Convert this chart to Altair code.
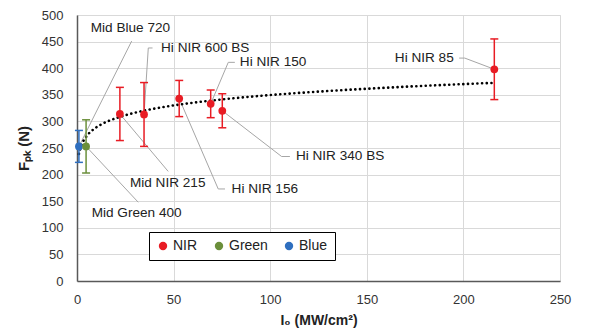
import altair as alt
import pandas as pd

# --- data ---
names = ["Mid Blue 720", "Mid Green 400", "Mid NIR 215", "Hi NIR 600 BS",
         "Hi NIR 156", "Hi NIR 150", "Hi NIR 340 BS", "Hi NIR 85"]
groups = ["Blue", "Green", "NIR", "NIR", "NIR", "NIR", "NIR", "NIR"]
intensity = [1.0, 4.7, 22.2, 34.7, 52.9, 69.2, 75.2, 216.0]
force = [253, 253, 314, 313, 343, 333, 320, 398]
err = [30, 50, 50, 60, 34, 26, 32, 57]

# annotation label anchors (data units) and leader elbows
label_x = [7.1, 7.6, 27.4, 43.5, 80.0, 84.3, 113.3, 195.0]
label_y = [476, 127, 185, 438, 173, 411, 235, 419]
label_align = ["left", "left", "left", "left", "left", "left", "left", "right"]
leader_start_x = [28.3, 31.7, 47.2, 39.1, 76.6, 81.7, 110.2, 197.8]
leader_start_y = [451, 148, 206, 438, 173, 411, 234, 419]
leader_elbow_x = [None, None, None, 36.9, 73.1, 78.3, 105.9, 200.7]

series_order = ["NIR", "Green", "Blue"]
series_colors = ["#e81c24", "#6b8f3b", "#2f6fbf"]

df = pd.DataFrame({"name": names, "group": groups, "I": intensity, "F": force, "e": err})
df["lo"] = df["F"] - df["e"]
df["hi"] = df["F"] + df["e"]

lab = pd.DataFrame({"name": names, "I": label_x, "F": label_y, "align": label_align})

rows = []
for i, n in enumerate(names):
    pts = [(leader_start_x[i], leader_start_y[i])]
    if leader_elbow_x[i] is not None:
        pts.append((leader_elbow_x[i], leader_start_y[i]))
    pts.append((intensity[i], force[i]))
    for k, (px, py) in enumerate(pts):
        rows.append({"lid": n, "ord": k, "I": px, "F": py})
lead = pd.DataFrame(rows)

FONT = "Liberation Sans"
XT = "I₀ (MW/cm²)"
YT = "Fₚₖ (N)"

xscale = alt.Scale(domain=[0, 250], nice=False)
yscale = alt.Scale(domain=[0, 500], nice=False)
xaxis = alt.Axis(values=[0, 50, 100, 150, 200, 250], grid=True, ticks=False,
                 gridColor="#d9d9d9", domainColor="#595959", domainWidth=1.5,
                 labelPadding=12, labelFontSize=13, labelColor="#333333",
                 labelFont=FONT, labelOverlap=False, labelFlush=False,
                 title=XT, titleFont=FONT,
                 titleFontSize=14, titleFontWeight="bold", titlePadding=7,
                 titleColor="#222222")
yaxis = alt.Axis(values=list(range(0, 501, 50)), grid=True, ticks=False,
                 gridColor="#d9d9d9", domainColor="#595959", domainWidth=1.5,
                 labelPadding=14, labelFontSize=13, labelColor="#333333",
                 labelFont=FONT, labelOverlap=False, labelFlush=False,
                 title=YT, titleFont=FONT,
                 titleFontSize=15, titleFontWeight="bold", titlePadding=10,
                 titleColor="#222222")


def X(f):
    return alt.X(f, scale=xscale, axis=xaxis, title=XT)


def Y(f):
    return alt.Y(f, scale=yscale, axis=yaxis, title=YT)


cscale = alt.Scale(domain=series_order, range=series_colors)
legend = alt.Legend(title=None, orient="none", legendX=72, legendY=217,
                    direction="horizontal", strokeColor="black",
                    fillColor="white", padding=7, symbolType="circle",
                    symbolSize=70, labelFontSize=14, labelFont=FONT,
                    labelColor="#222222", columnPadding=14,
                    labelOffset=3, symbolStrokeWidth=0)
C = alt.Color("group:N", scale=cscale, sort=series_order, legend=legend)

leaders = alt.Chart(lead).mark_line(color="#a6a6a6", strokeWidth=1).encode(
    x=X("I:Q"), y=Y("F:Q"), detail="lid:N", order="ord:Q")

trend = alt.Chart(df).transform_regression("I", "F", method="pow").mark_line(
    color="black", strokeWidth=2.6, strokeDash=[0.1, 4.6], strokeCap="round").encode(
    x=X("I:Q"), y=Y("F:Q"))

bars = alt.Chart(df).mark_rule(strokeWidth=1.5).encode(
    x=X("I:Q"), y=Y("lo:Q"), y2="hi:Q", color=C)
caps_hi = alt.Chart(df).mark_rule(strokeWidth=1.5, xOffset=-4, x2Offset=4).encode(
    x=X("I:Q"), x2="I:Q", y=Y("hi:Q"), color=C)
caps_lo = alt.Chart(df).mark_rule(strokeWidth=1.5, xOffset=-4, x2Offset=4).encode(
    x=X("I:Q"), x2="I:Q", y=Y("lo:Q"), color=C)

points = alt.Chart(df).mark_circle(size=60, opacity=1).encode(
    x=X("I:Q"), y=Y("F:Q"), color=C)

labels_l = alt.Chart(lab).transform_filter(alt.datum.align == "left").mark_text(
    align="left", baseline="middle", fontSize=13.6, font=FONT, color="#222222").encode(
    x=X("I:Q"), y=Y("F:Q"), text="name:N")
labels_r = alt.Chart(lab).transform_filter(alt.datum.align == "right").mark_text(
    align="right", baseline="middle", fontSize=13.6, font=FONT, color="#222222").encode(
    x=X("I:Q"), y=Y("F:Q"), text="name:N")

chart = alt.layer(leaders, trend, bars, caps_hi, caps_lo, points, labels_l, labels_r).properties(
    width=483, height=266,
    autosize=alt.AutoSizeParams(type="none"),
    padding={"left": 69, "top": 7, "right": 16, "bottom": 54},
).configure_view(stroke=None).configure(background="white")

chart.save("out.html", embed_options={"renderer": "svg", "actions": False})
